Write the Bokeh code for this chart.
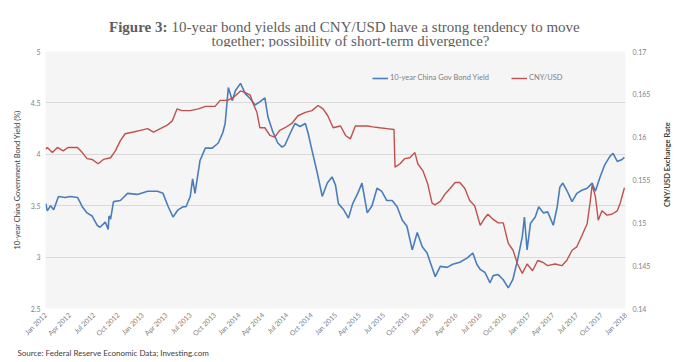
import math
import pandas as pd
from bokeh.plotting import figure
from bokeh.layouts import column, row
from bokeh.models import (Range1d, LinearAxis, FixedTicker, MonthsTicker,
                          DatetimeTickFormatter, Legend, LegendItem)
from bokeh.core.properties import value
from bokeh.embed import file_html
from bokeh.resources import INLINE

# ---- data ----
yield_dates = [
    "2012-01-02", "2012-01-08", "2012-01-20", "2012-02-01", "2012-02-19", "2012-03-15", "2012-04-03",
    "2012-05-01", "2012-05-19", "2012-06-06", "2012-06-25", "2012-07-14", "2012-07-25",
    "2012-08-14", "2012-08-25", "2012-08-28", "2012-09-03", "2012-09-14", "2012-10-10", "2012-11-06", "2012-12-13",
    "2013-01-21", "2013-02-27", "2013-03-20", "2013-04-09", "2013-04-27", "2013-05-16",
    "2013-06-04", "2013-06-15", "2013-07-01", "2013-07-10", "2013-07-19", "2013-08-07", "2013-08-27",
    "2013-09-22", "2013-10-15", "2013-11-01", "2013-11-10", "2013-11-22", "2013-12-07",
    "2013-12-19", "2014-01-07", "2014-01-25", "2014-02-13", "2014-03-03", "2014-03-21",
    "2014-04-09", "2014-04-21", "2014-05-09", "2014-05-28", "2014-06-13", "2014-06-24",
    "2014-07-13", "2014-08-01", "2014-08-20", "2014-09-09", "2014-09-20", "2014-10-04",
    "2014-10-24", "2014-11-12", "2014-12-01", "2014-12-19", "2015-01-01", "2015-01-12",
    "2015-02-01", "2015-02-19", "2015-03-07", "2015-03-26", "2015-04-11", "2015-05-01",
    "2015-05-19", "2015-06-07", "2015-06-25", "2015-07-14", "2015-08-03", "2015-08-22",
    "2015-09-10", "2015-09-28", "2015-10-18", "2015-11-06", "2015-11-25", "2015-12-13",
    "2015-12-25", "2016-01-13", "2016-02-01", "2016-02-27", "2016-03-19", "2016-04-15",
    "2016-05-12", "2016-06-03", "2016-06-18", "2016-07-01", "2016-07-19", "2016-08-07",
    "2016-08-19", "2016-09-07", "2016-09-26", "2016-10-15", "2016-11-01", "2016-11-19",
    "2016-12-07", "2016-12-15", "2016-12-25", "2017-01-07", "2017-01-25", "2017-02-07",
    "2017-02-25", "2017-03-13", "2017-04-03", "2017-04-18", "2017-04-28", "2017-05-09",
    "2017-05-24", "2017-06-13", "2017-07-01", "2017-07-20", "2017-08-09", "2017-08-28",
    "2017-09-09", "2017-09-27", "2017-10-15", "2017-11-03", "2017-11-15", "2017-12-01",
    "2017-12-19", "2017-12-28",
]
yield_values = [
    3.52, 3.45, 3.50, 3.46, 3.59, 3.58, 3.59,
    3.58, 3.49, 3.43, 3.40, 3.31, 3.29,
    3.34, 3.27, 3.40, 3.37, 3.54, 3.55, 3.62, 3.61,
    3.64, 3.64, 3.62, 3.49, 3.39, 3.46,
    3.49, 3.49, 3.59, 3.76, 3.62, 3.94, 4.06,
    4.06, 4.11, 4.21, 4.30, 4.65, 4.52,
    4.62, 4.69, 4.59, 4.54, 4.48, 4.51,
    4.55, 4.36, 4.22, 4.11, 4.07, 4.09,
    4.20, 4.30, 4.27, 4.30, 4.20, 4.04,
    3.82, 3.59, 3.72, 3.78, 3.70, 3.52,
    3.46, 3.38, 3.52, 3.62, 3.72, 3.43,
    3.50, 3.67, 3.64, 3.55, 3.55, 3.49,
    3.36, 3.30, 3.07, 3.24, 3.10, 3.04,
    2.95, 2.81, 2.91, 2.90, 2.93, 2.95,
    2.99, 3.04, 2.93, 2.88, 2.85, 2.75,
    2.82, 2.83, 2.78, 2.70, 2.78, 2.97,
    3.20, 3.39, 3.07, 3.33, 3.39, 3.49,
    3.43, 3.44, 3.31, 3.49, 3.68, 3.72,
    3.65, 3.54, 3.62, 3.65, 3.67, 3.72,
    3.64, 3.78, 3.90, 3.98, 4.01, 3.93,
    3.95, 3.97,
]

cny_dates = [
    "2012-01-02", "2012-01-08", "2012-01-27", "2012-02-15", "2012-03-08", "2012-03-26", "2012-05-01",
    "2012-05-19", "2012-06-06", "2012-06-25", "2012-07-18", "2012-08-07", "2012-09-03",
    "2012-09-21", "2012-10-10", "2012-10-28", "2012-11-28", "2012-12-25", "2013-01-21",
    "2013-02-12", "2013-03-10", "2013-04-05", "2013-04-24", "2013-05-12", "2013-05-31",
    "2013-07-01", "2013-08-01", "2013-08-27", "2013-10-03", "2013-10-22", "2013-11-18",
    "2013-12-10", "2014-01-07", "2014-01-25", "2014-02-13", "2014-02-24", "2014-03-10",
    "2014-03-21", "2014-04-09", "2014-04-28", "2014-05-16", "2014-06-04", "2014-06-24",
    "2014-07-20", "2014-08-12", "2014-09-09", "2014-10-04", "2014-10-27", "2014-11-15",
    "2014-12-03", "2014-12-23", "2015-01-20", "2015-02-08", "2015-02-26", "2015-03-17",
    "2015-04-05", "2015-05-01", "2015-05-22", "2015-06-17", "2015-07-14", "2015-08-10",
    "2015-08-14", "2015-09-02", "2015-09-20", "2015-10-09", "2015-10-28", "2015-11-08",
    "2015-11-27", "2015-12-15", "2016-01-01", "2016-01-12", "2016-02-01", "2016-02-20",
    "2016-03-09", "2016-03-28", "2016-04-15", "2016-05-04", "2016-05-22", "2016-06-10",
    "2016-07-01", "2016-07-19", "2016-07-30", "2016-08-19", "2016-09-07", "2016-09-26",
    "2016-10-15", "2016-11-02", "2016-11-19", "2016-12-07", "2016-12-25", "2017-01-15",
    "2017-02-03", "2017-02-22", "2017-03-13", "2017-04-10", "2017-05-05", "2017-05-24",
    "2017-06-13", "2017-07-01", "2017-07-20", "2017-08-09", "2017-08-20", "2017-08-28",
    "2017-09-09", "2017-09-20", "2017-10-04", "2017-10-23", "2017-11-10", "2017-12-01",
    "2017-12-12", "2017-12-28",
]
cny_values = [
    0.1586, 0.1588, 0.1582, 0.1588, 0.1584, 0.1588, 0.1588,
    0.1582, 0.1575, 0.1574, 0.1569, 0.1574, 0.1576,
    0.1584, 0.1596, 0.1604, 0.1606, 0.1608, 0.1610,
    0.1606, 0.1610, 0.1614, 0.1619, 0.1633, 0.1631,
    0.1631, 0.1633, 0.1636, 0.1636, 0.1643, 0.1643,
    0.1646, 0.1654, 0.1652, 0.1649, 0.1639, 0.1629,
    0.1611, 0.1611, 0.1602, 0.1600, 0.1608, 0.1611,
    0.1616, 0.1625, 0.1629, 0.1631, 0.1637, 0.1633,
    0.1625, 0.1611, 0.1613, 0.1602, 0.1598, 0.1613,
    0.1613, 0.1613, 0.1612, 0.1611, 0.1610, 0.1609,
    0.1565, 0.1569, 0.1575, 0.1576, 0.1582, 0.1569,
    0.1561, 0.1546, 0.1523, 0.1521, 0.1525, 0.1534,
    0.1540, 0.1547, 0.1547, 0.1540, 0.1526, 0.1520,
    0.1497, 0.1506, 0.1510, 0.1504, 0.1500, 0.1500,
    0.1476, 0.1468, 0.1452, 0.1441, 0.1452, 0.1444,
    0.1456, 0.1454, 0.1450, 0.1452, 0.1450, 0.1456,
    0.1468, 0.1472, 0.1485, 0.1499, 0.1523, 0.1544,
    0.1531, 0.1503, 0.1514, 0.1509, 0.1510, 0.1514,
    0.1523, 0.1541,
]

left_ticks = [2.5, 3.0, 3.5, 4.0, 4.5, 5.0]
left_tick_labels = ["2.5", "3", "3.5", "4", "4.5", "5"]
right_ticks = [0.14, 0.145, 0.15, 0.155, 0.16, 0.165, 0.17]
right_tick_labels = ["0.14", "0.145", "0.15", "0.155", "0.16", "0.165", "0.17"]
series_names = ["10-year China Gov Bond Yield", "CNY/USD"]
title_bold = "Figure 3:"
title_line1 = "10-year bond yields and CNY/USD have a strong tendency to move"
title_line2 = "together; possibility of short-term divergence?"
left_axis_title = "10-year China Government Bond Yield (%)"
right_axis_title = "CNY/USD Exchange Rate"
source_text = "Source: Federal Reserve Economic Data; Investing.com"

TICK_FONT = "Lato"
TITLE_FONT = "Liberation Serif"
TITLE_COLOR = "#5e5e5e"


def blank_fig(w, h):
    f = figure(width=w, height=h, x_range=Range1d(0, w), y_range=Range1d(0, h),
               x_axis_type=None, y_axis_type=None, min_border=0,
               toolbar_location=None, output_backend="svg", title_location=None)
    f.outline_line_color = None
    f.background_fill_color = "white"
    f.border_fill_color = "white"
    return f


# ---- header (title) ----
HEAD_H = 47
head = blank_fig(686, HEAD_H)
head.text(x=[167], y=[HEAD_H - 26], text=[title_bold], text_align="right",
          text_baseline="alphabetic", text_font=value(TITLE_FONT), text_font_style="bold",
          text_font_size="15px", text_color=TITLE_COLOR)
head.text(x=[171], y=[HEAD_H - 26], text=[title_line1], text_align="left",
          text_baseline="alphabetic", text_font=value(TITLE_FONT),
          text_font_size="15px", text_color=TITLE_COLOR)
head.text(x=[350], y=[HEAD_H - 40], text=[title_line2], text_align="center",
          text_baseline="alphabetic", text_font=value(TITLE_FONT),
          text_font_size="15px", text_color=TITLE_COLOR)

# ---- main chart ----
MAIN_H = 301
RIGHT_W = 25
TOP_B = 51 - HEAD_H
p = figure(width=686 - RIGHT_W, height=MAIN_H, x_axis_type="datetime",
           output_backend="svg", toolbar_location=None, title_location=None,
           x_range=Range1d(pd.Timestamp("2012-01-01"), pd.Timestamp("2018-01-01")),
           y_range=Range1d(2.5, 5.0),
           min_border_left=45, min_border_right=686 - RIGHT_W - 625,
           min_border_top=TOP_B, min_border_bottom=MAIN_H - TOP_B - 257)
p.background_fill_color = "#f5f5f5"
p.border_fill_color = "white"
p.outline_line_color = None

p.extra_y_ranges = {"cny": Range1d(0.14, 0.17)}

r1 = p.line(pd.to_datetime(yield_dates), yield_values, color="#4a7ebb", line_width=1.6)
r2 = p.line(pd.to_datetime(cny_dates), cny_values, color="#c0504d", line_width=1.4,
            y_range_name="cny")

p.xgrid.visible = False
p.ygrid.ticker = FixedTicker(ticks=left_ticks)
p.ygrid.grid_line_color = "#d9d9d9"

yl = p.yaxis[0]
yl.ticker = FixedTicker(ticks=left_ticks)
yl.major_label_overrides = dict(zip(left_ticks, left_tick_labels))
yl.major_label_standoff = 5
yl.axis_label = left_axis_title
yl.axis_label_text_font = TICK_FONT
yl.axis_label_text_font_size = "7.5px"
yl.axis_label_text_font_style = "normal"
yl.axis_label_text_color = "#404040"
yl.axis_label_standoff = 6

yr = LinearAxis(y_range_name="cny", ticker=FixedTicker(ticks=right_ticks))
yr.major_label_overrides = dict(zip(right_ticks, right_tick_labels))
yr.major_label_standoff = 7
p.add_layout(yr, "right")

xa = p.xaxis[0]
xa.ticker = MonthsTicker(months=[0, 3, 6, 9])
xa.formatter = DatetimeTickFormatter(months="%b %Y", days="%b %Y", years="%b %Y")
xa.major_label_orientation = math.pi / 4
xa.major_label_standoff = 5

for ax in (yl, yr, xa):
    ax.axis_line_color = None
    ax.major_tick_line_color = None
    ax.minor_tick_line_color = None
    ax.major_tick_out = 0
    ax.major_tick_in = 0
    ax.minor_tick_out = 0
    ax.major_label_text_font = TICK_FONT
    ax.major_label_text_font_size = "7px"
    ax.major_label_text_color = "#7f7f7f"

legend = Legend(items=[LegendItem(label=series_names[0], renderers=[r1]),
                       LegendItem(label=series_names[1], renderers=[r2])],
                orientation="horizontal", location=(327, 226),
                background_fill_alpha=0, border_line_color=None,
                label_text_font=TICK_FONT, label_text_font_size="7.5px",
                label_text_color="#7f7f7f", glyph_width=16, glyph_height=8,
                label_standoff=2, spacing=22, padding=0, margin=0, label_height=8)
p.add_layout(legend)

# ---- right axis title strip ----
side = blank_fig(RIGHT_W, MAIN_H)
side.text(x=[6], y=[MAIN_H - (179.5 - HEAD_H)], text=[right_axis_title], angle=math.pi / 2,
          text_align="center", text_baseline="middle", text_font=value(TICK_FONT),
          text_font_size="7.5px", text_font_style="bold", text_color="#404040")

# ---- footer (source) ----
FOOT_H = 362 - HEAD_H - MAIN_H
foot = blank_fig(686, FOOT_H)
foot.text(x=[17], y=[FOOT_H - 4], text=[source_text], text_align="left",
          text_baseline="middle", text_font=value(TICK_FONT),
          text_font_size="8px", text_color="#404040")

layout = column(head, row(p, side), foot)
open("out.html", "w").write(file_html(layout, INLINE))
